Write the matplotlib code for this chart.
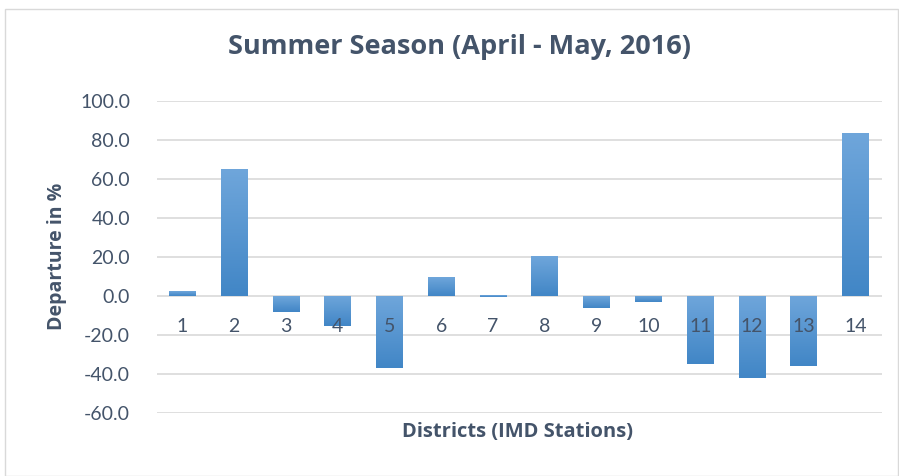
"""Summer season rainfall departure bar chart."""

import matplotlib

matplotlib.use("Agg")
import matplotlib.pyplot as plt
import numpy as np
from matplotlib.colors import LinearSegmentedColormap
from matplotlib.patches import Rectangle

districts = [str(i) for i in range(1, 15)]
departure = [2.4, 65.0, -8.2, -15.4, -36.9, 9.6, -0.5, 20.3, -6.1, -3.1, -34.9, -42.1, -35.9, 83.4]
y_ticks = [-60, -40, -20, 0, 20, 40, 60, 80, 100]

TEXT = "#44546a"
GRID = "#d9d9d9"

plt.rcParams["font.family"] = ["Lato", "DejaVu Sans"]

fig = plt.figure(figsize=(8.99, 4.76), dpi=100)
fig.patches.append(Rectangle((5 / 899, 0), 893 / 899, 1 - 9 / 476, transform=fig.transFigure,
                             fill=False, edgecolor="#d9d9d9", linewidth=1))
ax = fig.add_axes([156.5 / 899, 1 - 412.7 / 476, 725 / 899, 312 / 476])

x = np.arange(len(districts))
bars = ax.bar(x, departure, width=0.52, color="none", zorder=1)

cmap = LinearSegmentedColormap.from_list("blues", ["#4186c6", "#6fa6db"])
grad = np.linspace(0, 1, 256).reshape(-1, 1)
for bar in bars:
    bx, by = bar.get_x(), bar.get_y()
    w, h = bar.get_width(), bar.get_height()
    y0, y1 = min(by, by + h), max(by, by + h)
    if y1 - y0 < 0.6:
        y0, y1 = -0.6, 0.0
    im = ax.imshow(grad, extent=[bx, bx + w, y0, y1], origin="lower", cmap=cmap,
                   aspect="auto", zorder=1)
    if abs(h) >= 0.6:
        im.set_clip_path(bar)

for v in y_ticks:
    ax.axhline(v, color=GRID, linewidth=1.2, zorder=0.5)

ax.set_xlim(-0.5, len(districts) - 0.5)
ax.set_ylim(-60, 100)
ax.set_yticks(y_ticks)
ax.set_yticklabels([f"{v:.1f}" for v in y_ticks])

ax.spines["bottom"].set_position(("data", 0))
for side in ["top", "right", "left", "bottom"]:
    ax.spines[side].set_visible(False)
ax.set_xticks(x)
ax.set_xticklabels(districts)
ax.tick_params(axis="x", length=0, pad=16, labelsize=14, labelcolor=TEXT)
ax.tick_params(axis="y", length=0, pad=19, labelsize=14, labelcolor=TEXT)

bold = dict(family=["Open Sans", "DejaVu Sans"], fontweight="bold", color=TEXT)
fig.text(460 / 899, 1 - 47 / 476, "Summer Season (April - May, 2016)", ha="center", va="center",
         fontsize=19.5, **bold)
fig.text(57 / 899, 1 - 256 / 476, "Departure in %", ha="center", va="center", rotation=90,
         fontsize=14, **bold)
fig.text(518 / 899, 1 - 432 / 476, "Districts (IMD Stations)", ha="center", va="center",
         fontsize=14.5, **bold)

fig.savefig("out.png", dpi=100)
